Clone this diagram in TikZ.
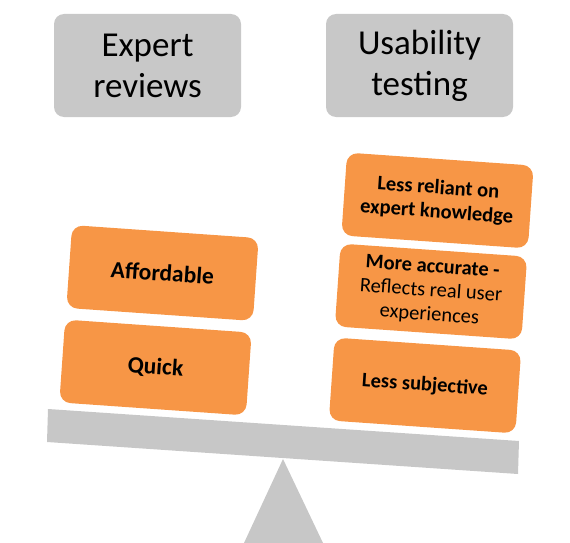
\documentclass[tikz,border=0pt]{standalone}
\usepackage{fontspec}
\setmainfont{Carlito}
\begin{document}
\begin{tikzpicture}[x=1pt,y=-1pt]

	% Farben
	\definecolor{kopfgrau}{RGB}{200,200,200}
	\definecolor{balkengrau}{RGB}{199,199,199}
	\definecolor{kartenorange}{RGB}{247,150,70}
	\tikzset{
		kopf/.style={fill=kopfgrau, rounded corners=10pt, minimum width=187pt, minimum height=103pt, inner sep=0pt, align=center, font=\fontsize{35}{41}\selectfont},
		karte/.style={fill=kartenorange, rounded corners=11pt, minimum width=187pt, minimum height=83pt, inner sep=0pt, align=center, rotate=-4, font=\fontsize{20.5}{24}\selectfont\bfseries},
		grosskarte/.style={karte, font=\fontsize{23.5}{28}\selectfont\bfseries}
	}
	\useasboundingbox (0,0) rectangle (570,543);

	% Waage
	\fill[balkengrau] (244,543) -- (283,459) -- (323,543) -- cycle;
	\fill[balkengrau] (48,409) -- (519,441) -- (518,474) -- (47,442) -- cycle;

	% Kopfzeilen
	\node[kopf] (expert) at (147.5,65.5) {Expert\\reviews};
	\node[kopf] (usability) at (419.5,65.5) {Usability\\testing};

	% Links: Expert reviews
	\node[grosskarte] (affordable) at (162.5,273) {Affordable};
	\node[grosskarte] (quick) at (155.5,367.5) {Quick};

	% Rechts: Usability testing
	\node[karte] (reliant) at (437.5,200.5) {Less reliant on\\expert knowledge};
	\node[karte] (accurate) at (431,291.5) {More accurate -\\\mdseries Reflects real user\\\mdseries experiences};
	\node[karte] (subjective) at (425,385.5) {Less subjective};

\end{tikzpicture}
\end{document}
